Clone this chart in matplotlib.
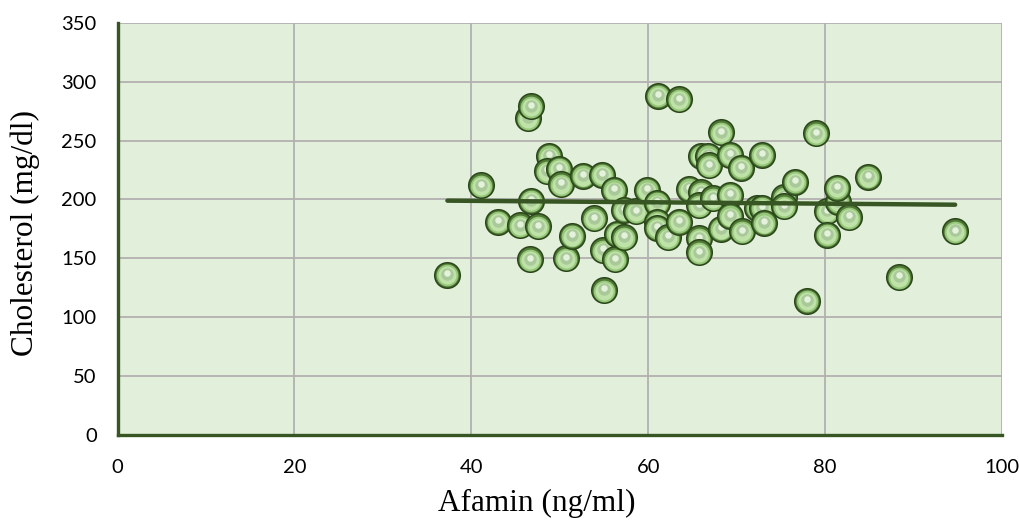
import numpy as np
import matplotlib
matplotlib.use("Agg")
import matplotlib.pyplot as plt

# Data
afamin = [37.3, 41.1, 43.0, 45.5, 46.4, 46.8, 46.7, 47.5, 46.6, 48.8,
          48.6, 49.9, 50.1, 50.7, 51.4, 52.6, 54.8, 53.9, 54.9, 55.0,
          56.1, 56.3, 56.5, 57.3, 57.3, 58.6, 59.9, 61.0, 61.0, 61.0,
          62.2, 63.5, 61.1, 63.5, 64.6, 66.0, 65.7, 65.7, 65.7, 66.0,
          66.8, 66.9, 67.3, 68.2, 68.2, 69.3, 70.5, 69.3, 69.3, 70.6,
          72.9, 72.3, 72.9, 73.1, 75.3, 75.3, 76.6, 78.0, 79.0, 80.2,
          81.5, 81.4, 82.7, 80.2, 84.9, 88.3, 94.7]
cholesterol = [136, 212, 181, 178, 269, 279, 199, 177, 149, 237,
               224, 226, 213, 150, 169, 220, 221, 184, 157, 123,
               208, 149, 171, 168, 191, 190, 208, 197, 181, 176,
               168, 181, 288, 285, 209, 206, 195, 167, 155, 237,
               237, 229, 201, 175, 257, 238, 227, 204, 186, 173,
               238, 193, 193, 180, 202, 194, 215, 114, 256, 190,
               198, 210, 185, 170, 219, 134, 173]

x_ticks = [0, 20, 40, 60, 80, 100]
y_ticks = [0, 50, 100, 150, 200, 250, 300, 350]
x_label = "Afamin (ng/ml)"
y_label = "Cholesterol (mg/dl)"

dark = "#375623"
W, H = 1019, 526
fig = plt.figure(figsize=(W / 100, H / 100), dpi=100)
x0, x1, yb, yt = 117.5, 1002, 435, 22.7
ax = fig.add_axes([x0 / W, 1 - yb / H, (x1 - x0) / W, (yb - yt) / H])
ax.set_facecolor("#E2EFDA")
ax.set_xlim(0, 100)
ax.set_ylim(0, 350)
ax.set_xticks(x_ticks)
ax.set_yticks(y_ticks)
ax.grid(True, color="#B3B0B0", linewidth=1.3)
ax.set_axisbelow(True)
for s in ["top", "right"]:
    ax.spines[s].set_visible(False)
for s in ["left", "bottom"]:
    ax.spines[s].set_color(dark)
    ax.spines[s].set_linewidth(2.4)
ax.tick_params(length=0, labelsize=14.5, colors="black")
ax.tick_params(axis="y", pad=15)
ax.tick_params(axis="x", pad=17)
for lab in ax.get_xticklabels() + ax.get_yticklabels():
    lab.set_fontfamily("Lato")

# marker layers: (size in pt^2, color, vertical offset in data units)
layers = [
    (380, "#2B461B", 0.0),
    (300, "#4E7834", 0.0),
    (245, "#95C679", -0.4),
    (170, "#BFE2A8", -0.6),
    (80, "#A9C99A", 0.6),
    (22, "#E4F1DB", 1.4),
]
for xv, yv in zip(afamin, cholesterol):
    for s, c, dy in layers:
        ax.scatter([xv], [yv + dy], s=s, color=c, linewidths=0, zorder=3)

# linear trendline
coef = np.polyfit(afamin, cholesterol, 1)
xs = np.array([min(afamin), max(afamin)])
ax.plot(xs, np.polyval(coef, xs), color=dark, linewidth=3.2,
        solid_capstyle="round", zorder=4)

fig.text(536.5 / W, 1 - 503 / H, x_label, ha="center", va="center",
         fontsize=22.5, family="Liberation Serif")
fig.text(25 / W, 1 - 233 / H, y_label, ha="center", va="center",
         fontsize=22.5, family="Liberation Serif", rotation=90)

fig.savefig("out.png", dpi=100)
